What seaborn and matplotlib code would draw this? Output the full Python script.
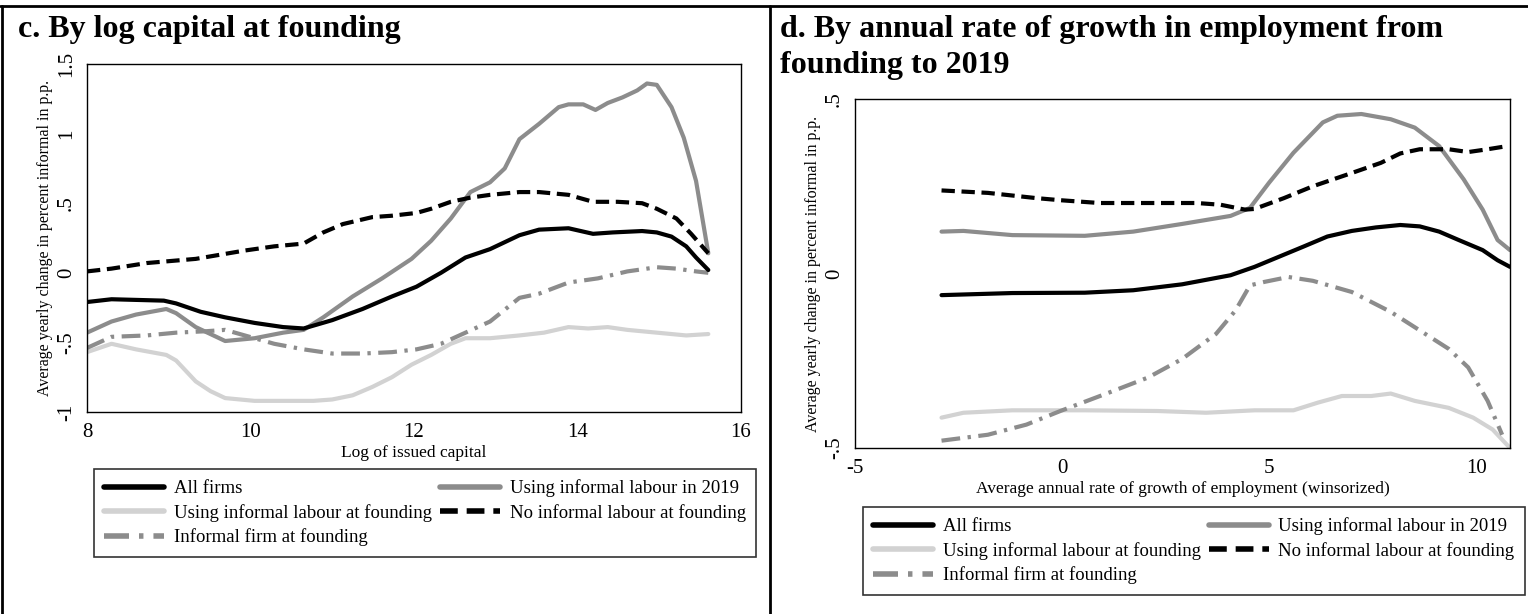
import numpy as np
import pandas as pd
import matplotlib
matplotlib.use("Agg")
import matplotlib.pyplot as plt
import seaborn as sns
from matplotlib.lines import Line2D

sns.set_theme(style="white")
plt.rcParams['font.family'] = ['Liberation Serif', 'DejaVu Serif']
plt.rcParams['text.color'] = 'black'
plt.rcParams['axes.labelcolor'] = 'black'
plt.rcParams['xtick.color'] = 'black'
plt.rcParams['ytick.color'] = 'black'

# ---------------- Panel c data ----------------
c_all_x = [8.0, 8.3, 8.94, 9.09, 9.39, 9.69, 10.05, 10.4, 10.65, 11.0, 11.37, 11.73, 12.03, 12.33, 12.63, 12.93, 13.29, 13.53, 13.89, 14.19, 14.43, 14.79, 14.97, 15.15, 15.33, 15.45, 15.6]
c_all_y = [-0.21, -0.19, -0.20, -0.22, -0.28, -0.32, -0.36, -0.39, -0.40, -0.34, -0.26, -0.17, -0.10, 0.0, 0.11, 0.17, 0.27, 0.31, 0.32, 0.28, 0.29, 0.30, 0.29, 0.26, 0.19, 0.11, 0.02]

c_inf2019_x = [8.0, 8.3, 8.6, 8.97, 9.09, 9.33, 9.69, 10.05, 10.4, 10.65, 10.89, 11.25, 11.61, 11.97, 12.21, 12.45, 12.69, 12.93, 13.11, 13.29, 13.53, 13.77, 13.89, 14.07, 14.22, 14.37, 14.55, 14.73, 14.85, 14.97, 15.15, 15.30, 15.45, 15.6]
c_inf2019_y = [-0.43, -0.35, -0.30, -0.26, -0.29, -0.39, -0.49, -0.47, -0.43, -0.41, -0.32, -0.17, -0.04, 0.10, 0.23, 0.39, 0.58, 0.65, 0.75, 0.96, 1.07, 1.19, 1.21, 1.21, 1.17, 1.22, 1.26, 1.31, 1.36, 1.35, 1.19, 0.97, 0.66, 0.14]

c_inffound_x = [8.0, 8.3, 8.6, 8.97, 9.09, 9.33, 9.51, 9.69, 10.05, 10.4, 10.77, 11.0, 11.25, 11.49, 11.73, 11.97, 12.21, 12.45, 12.63, 12.93, 13.29, 13.59, 13.89, 14.13, 14.37, 14.61, 14.97, 15.33, 15.6]
c_inffound_y = [-0.57, -0.51, -0.55, -0.59, -0.63, -0.78, -0.85, -0.90, -0.92, -0.92, -0.92, -0.91, -0.88, -0.82, -0.75, -0.66, -0.59, -0.51, -0.47, -0.47, -0.45, -0.43, -0.39, -0.40, -0.39, -0.41, -0.43, -0.45, -0.44]

c_noinf_x = [8.0, 8.3, 8.73, 9.33, 9.93, 10.29, 10.65, 10.89, 11.13, 11.49, 11.73, 12.03, 12.21, 12.45, 12.69, 12.93, 13.29, 13.53, 13.89, 14.07, 14.19, 14.49, 14.79, 14.97, 15.21, 15.39, 15.6]
c_noinf_y = [0.01, 0.03, 0.07, 0.10, 0.16, 0.19, 0.21, 0.29, 0.35, 0.40, 0.41, 0.43, 0.46, 0.51, 0.54, 0.56, 0.58, 0.58, 0.56, 0.53, 0.51, 0.51, 0.50, 0.46, 0.39, 0.28, 0.14]

c_firm_x = [8.0, 8.3, 8.73, 9.09, 9.45, 9.69, 9.93, 10.29, 10.65, 11.0, 11.37, 11.73, 12.03, 12.33, 12.63, 12.93, 13.29, 13.53, 13.89, 14.25, 14.61, 14.97, 15.21, 15.45, 15.6]
c_firm_y = [-0.54, -0.46, -0.45, -0.43, -0.42, -0.41, -0.45, -0.51, -0.55, -0.58, -0.58, -0.57, -0.55, -0.51, -0.43, -0.35, -0.18, -0.15, -0.07, -0.04, 0.01, 0.04, 0.03, 0.01, 0.0]

# ---------------- Panel d data ----------------
d_all_x = [-2.91, -1.2, 0.55, 1.72, 2.9, 4.07, 4.65, 5.24, 5.83, 6.41, 7.0, 7.58, 8.17, 8.64, 9.11, 9.58, 10.16, 10.52, 10.82]
d_all_y = [-0.062, -0.056, -0.055, -0.048, -0.031, -0.005, 0.019, 0.048, 0.077, 0.106, 0.122, 0.132, 0.139, 0.135, 0.12, 0.096, 0.067, 0.038, 0.019]

d_inf2019_x = [-2.91, -2.38, -1.2, 0.55, 1.72, 2.9, 4.07, 4.54, 5.0, 5.59, 6.3, 6.65, 7.23, 7.94, 8.52, 9.11, 9.7, 10.16, 10.52, 10.82]
d_inf2019_y = [0.12, 0.122, 0.11, 0.108, 0.12, 0.142, 0.165, 0.188, 0.26, 0.346, 0.433, 0.452, 0.457, 0.442, 0.418, 0.365, 0.27, 0.183, 0.096, 0.067]

d_inffound_x = [-2.91, -2.38, -1.2, 0.55, 2.31, 3.48, 4.65, 5.59, 6.18, 6.76, 7.47, 7.94, 8.52, 9.34, 9.93, 10.4, 10.82]
d_inffound_y = [-0.413, -0.399, -0.392, -0.392, -0.394, -0.399, -0.392, -0.392, -0.37, -0.351, -0.351, -0.344, -0.365, -0.385, -0.413, -0.447, -0.5]

d_noinf_x = [-2.91, -1.79, -0.62, -0.04, 0.90, 2.31, 3.25, 3.83, 4.42, 4.65, 5.36, 6.06, 7.0, 7.7, 8.17, 8.64, 9.34, 9.81, 10.28, 10.75]
d_noinf_y = [0.238, 0.231, 0.216, 0.21, 0.202, 0.202, 0.202, 0.197, 0.183, 0.185, 0.216, 0.25, 0.288, 0.317, 0.344, 0.356, 0.356, 0.348, 0.356, 0.365]

d_firm_x = [-2.91, -1.79, -0.86, -0.04, 1.14, 2.08, 2.9, 3.72, 4.19, 4.54, 4.89, 5.47, 6.06, 7.0, 7.94, 8.64, 9.34, 9.81, 10.28, 10.63]
d_firm_y = [-0.479, -0.462, -0.433, -0.394, -0.341, -0.298, -0.245, -0.173, -0.106, -0.034, -0.024, -0.01, -0.021, -0.053, -0.11, -0.163, -0.216, -0.269, -0.365, -0.462]

c_ticks_x = [8, 10, 12, 14, 16]
c_ticks_y = [-1, -0.5, 0, 0.5, 1, 1.5]
c_ticklabels_y = ["-1", "-.5", "0", ".5", "1", "1.5"]
d_ticks_x = [-5, 0, 5, 10]
d_ticks_y = [-0.5, 0, 0.5]
d_ticklabels_y = ["-.5", "0", ".5"]

styles = {
    "All firms": dict(color="#000000", linestyle="-"),
    "Using informal labour in 2019": dict(color="#8c8c8c", linestyle="-"),
    "Using informal labour at founding": dict(color="#d2d2d2", linestyle="-"),
    "No informal labour at founding": dict(color="#000000", linestyle=(0, (3.2, 1.6))),
    "Informal firm at founding": dict(color="#8c8c8c", linestyle=(0, (4.5, 1.8, 0.8, 1.8))),
}

W, H = 1528, 614
fig = plt.figure(figsize=(W / 100, H / 100), dpi=100)

def px_axes(l, t, r, b):
    return fig.add_axes([l / W, 1 - b / H, (r - l) / W, (b - t) / H])

ax_c = px_axes(87, 64, 741, 412)
ax_d = px_axes(855, 99, 1510, 448)

def draw(ax, series):
    for lab, (xs, ys) in series.items():
        df = pd.DataFrame({"x": xs, "y": ys})
        sns.lineplot(data=df, x="x", y="y", ax=ax, lw=3.0, estimator=None, sort=False,
                     **styles[lab])

draw(ax_c, {
    "Using informal labour at founding": (c_inffound_x, c_inffound_y),
    "Informal firm at founding": (c_firm_x, c_firm_y),
    "Using informal labour in 2019": (c_inf2019_x, c_inf2019_y),
    "No informal labour at founding": (c_noinf_x, c_noinf_y),
    "All firms": (c_all_x, c_all_y),
})
draw(ax_d, {
    "Using informal labour at founding": (d_inffound_x, d_inffound_y),
    "Informal firm at founding": (d_firm_x, d_firm_y),
    "Using informal labour in 2019": (d_inf2019_x, d_inf2019_y),
    "No informal labour at founding": (d_noinf_x, d_noinf_y),
    "All firms": (d_all_x, d_all_y),
})

def style_axes(ax, xt, yt, ytl, xlim, ylim, xlabel):
    ax.set_xlim(*xlim)
    ax.set_ylim(*ylim)
    ax.set_xticks(xt)
    ax.set_xticklabels([str(v) for v in xt], fontsize=15)
    ax.set_yticks(yt)
    ax.set_yticklabels(ytl, fontsize=15, rotation=90, va="center")
    ax.set_xlabel(xlabel, fontsize=12.5, labelpad=2)
    ax.set_ylabel("Average yearly change in percent informal in p.p.", fontsize=11.5, labelpad=3)
    ax.tick_params(axis="both", direction="out", length=6, width=1, color="black", pad=2)
    for s in ax.spines.values():
        s.set_color("black")
        s.set_linewidth(1.0)
    ax.set_facecolor("white")

style_axes(ax_c, c_ticks_x, c_ticks_y, c_ticklabels_y, (8, 16), (-1, 1.5), "Log of issued capital")
style_axes(ax_d, d_ticks_x, d_ticks_y, d_ticklabels_y, (-5, 10.82), (-0.5, 0.5),
           "Average annual rate of growth of employment (winsorized)")

order = ["All firms", "Using informal labour at founding", "Informal firm at founding",
         "Using informal labour in 2019", "No informal labour at founding"]
handles = [Line2D([0], [0], lw=4, **styles[l]) for l in order]

for (l, t) in [(94, 469), (863, 507)]:
    leg = fig.legend(handles, order, ncol=2, loc="upper left",
                     bbox_to_anchor=(l / W, 1 - t / H),
                     borderaxespad=0, fontsize=13.5, frameon=True,
                     fancybox=False, shadow=False, handlelength=3.2, handletextpad=0.5,
                     columnspacing=0.45, borderpad=0.55, labelspacing=0.36)
    leg.get_frame().set_edgecolor("black")
    leg.get_frame().set_linewidth(1.2)

fig.text(18 / W, 1 - 37 / H, "c. By log capital at founding", fontsize=23, fontweight="bold",
         va="baseline", ha="left")
fig.text(780 / W, 1 - 37 / H, "d. By annual rate of growth in employment from",
         fontsize=23, fontweight="bold", va="baseline", ha="left")
fig.text(780 / W, 1 - 73 / H, "founding to 2019",
         fontsize=23, fontweight="bold", va="baseline", ha="left")

# table cell borders
for xs, ys in [([2 / W, 2 / W], [0, 1 - 6 / H]),
               ([0, 1], [1 - 6 / H, 1 - 6 / H]),
               ([770 / W, 770 / W], [0, 1 - 6 / H])]:
    fig.add_artist(Line2D(xs, ys, color="black", lw=2.0, transform=fig.transFigure))

fig.savefig("out.png", dpi=100, facecolor="white")
